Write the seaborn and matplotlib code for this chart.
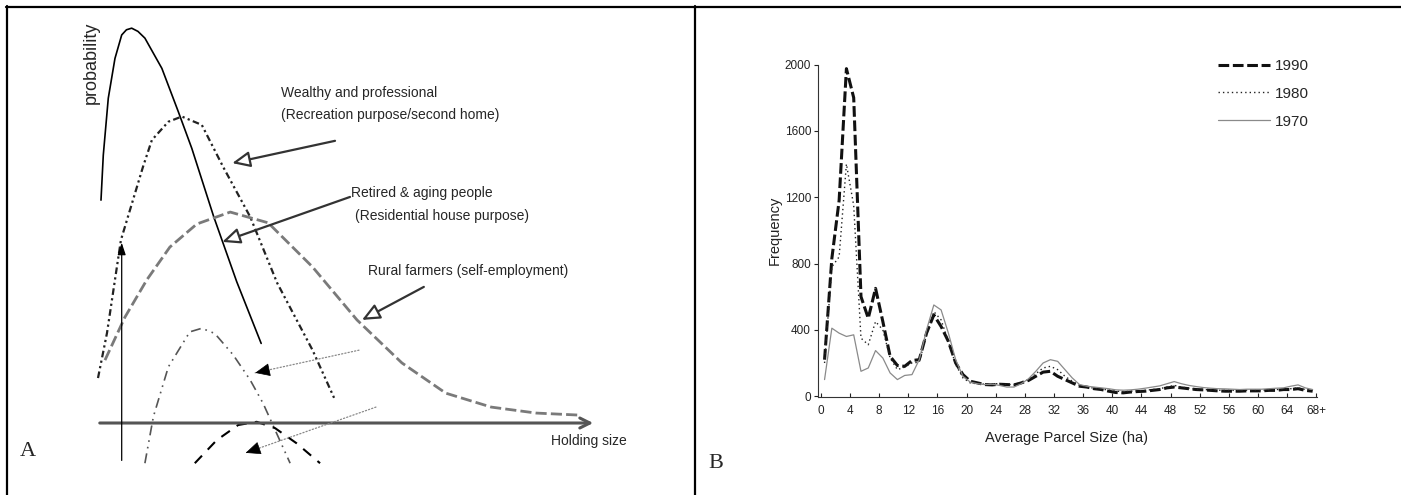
import numpy as np
import pandas as pd
import seaborn as sns
import matplotlib.pyplot as plt
from matplotlib import font_manager
from matplotlib.lines import Line2D

# --- Panel A: schematic curves (holding size vs probability, arbitrary units 0-100) ---
SOLID_X = [0.8, 1.26, 2.26, 3.6, 4.95, 5.9, 6.95, 8.2, 9.6, 13.0, 16.3, 19.0, 23.4, 28.0, 32.9]
SOLID_Y = [56.0, 67.3, 81.6, 91.6, 97.5, 98.8, 99.2, 98.4, 96.7, 89.1, 78.2, 69.0, 51.8, 35.5, 20.0]

WEALTHY_X = [0.2, 2.0, 4.8, 9.2, 11.0, 14.3, 17.0, 21.0, 25.3, 30.7, 36.1, 43.2, 47.7]
WEALTHY_Y = [11.3, 22.6, 46.0, 64.3, 71.1, 75.7, 77.0, 74.9, 64.3, 51.8, 35.2, 18.3, 5.8]

RETIRED_X = [1.6, 5.6, 10.0, 14.6, 20.0, 26.7, 34.3, 43.2, 52.1, 61.1, 69.9, 79.0, 88.0, 96.4]
RETIRED_Y = [15.8, 26.6, 36.0, 44.2, 50.0, 53.0, 50.3, 39.2, 25.9, 15.1, 7.5, 4.0, 2.5, 2.0]

LOWER1_X = [9.6, 11.3, 14.3, 18.6, 21.0, 23.6, 27.3, 30.7, 33.3, 36.0, 38.7]
LOWER1_Y = [-10.1, 1.6, 14.1, 22.9, 23.8, 22.5, 17.1, 10.8, 4.9, -2.6, -10.1]

LOWER2_X = [19.6, 24.0, 28.3, 32.0, 35.7, 40.0, 44.7]
LOWER2_Y = [-10.1, -4.3, -0.5, 0.3, -1.3, -5.1, -10.1]

LABELS_A = ["Wealthy and professional", "(Recreation purpose/second home)",
            "Retired & aging people", "(Residential house purpose)",
            "Rural farmers (self-employment)"]
LABEL_X = [36.9, 36.9, 50.9, 51.7, 54.3]
LABEL_Y = [82.9, 77.4, 57.8, 52.0, 38.2]

ARROW_TAIL_X = [47.7, 50.7, 65.5]
ARROW_TAIL_Y = [70.9, 56.8, 34.2]
ARROW_HEAD_X = [27.1, 25.1, 53.1]
ARROW_HEAD_Y = [65.3, 45.5, 25.9]

DOTTED_TAIL_X = [52.5, 55.9]
DOTTED_TAIL_Y = [18.3, 4.0]
DOTTED_HEAD_X = [31.7, 29.8]
DOTTED_HEAD_Y = [12.6, -7.5]

# --- Panel B: parcel size frequency (1 ha bins, plotted at bin centres) ---
PARCEL_SIZE = np.arange(0.5, 68, 1.0)
YEARS = ["1990", "1980", "1970"]
FREQ_1990 = [220, 830, 1180, 1975, 1800, 600, 470, 650, 450, 240, 185, 180, 215, 220, 380, 490, 420,
             330, 200, 130, 90, 80, 70, 68, 72, 70, 68, 80, 95, 120, 145, 150, 120, 100, 80, 60, 55,
             45, 40, 30, 22, 20, 25, 28, 30, 35, 40, 50, 55, 50, 45, 40, 38, 35, 32, 30, 30, 30, 32,
             32, 32, 35, 35, 40, 40, 45, 35, 30]
FREQ_1980 = [200, 780, 840, 1400, 1150, 350, 310, 450, 400, 230, 160, 175, 200, 205, 370, 510, 460,
             330, 190, 110, 80, 75, 72, 75, 75, 70, 70, 85, 100, 135, 170, 180, 160, 120, 90, 65, 55,
             48, 42, 38, 30, 28, 30, 32, 35, 40, 45, 55, 65, 55, 48, 42, 40, 38, 36, 35, 35, 35, 36,
             36, 36, 38, 40, 42, 45, 50, 40, 35]
FREQ_1970 = [100, 410, 380, 360, 370, 150, 170, 275, 230, 140, 100, 125, 130, 220, 400, 550, 520,
             380, 220, 120, 85, 75, 70, 72, 65, 55, 55, 75, 105, 150, 200, 220, 210, 160, 110, 70, 60,
             55, 50, 45, 38, 36, 38, 42, 48, 55, 62, 75, 88, 75, 65, 58, 52, 48, 45, 44, 42, 40, 42,
             42, 42, 45, 48, 50, 60, 68, 50, 40]
X_TICKS = list(range(0, 69, 4))
X_TICK_LABELS = [str(v) for v in X_TICKS[:-1]] + ["68+"]
Y_TICKS = [0, 400, 800, 1200, 1600, 2000]

W, H = 1401, 495


def px_rect(left, top, right, bottom):
    return [left / W, 1 - bottom / H, (right - left) / W, (bottom - top) / H]


sns.set_theme(style="ticks")
plt.rcParams['font.family'] = ['Liberation Sans', 'DejaVu Sans']

installed = {f.name for f in font_manager.fontManager.ttflist}
if 'Liberation Sans Narrow' in installed:
    NARROW = ['Liberation Sans Narrow', 'Liberation Sans']
    A_SIZE = 12
else:
    NARROW = ['Liberation Sans', 'DejaVu Sans']
    A_SIZE = 10

fig = plt.figure(figsize=(W / 100, H / 100), dpi=100)

# frame lines around the two panels
for xs, ys in [([6 / W, 1], [1 - 6.5 / H] * 2), ([6.5 / W] * 2, [1 - 6 / H, 0]),
               ([695 / W] * 2, [1 - 6 / H, 0])]:
    fig.add_artist(Line2D(xs, ys, transform=fig.transFigure, color='black', lw=1.6))

# ==============================================================================
# Panel A
# ==============================================================================
axA = fig.add_axes(px_rect(97, 25, 596, 465))
axA.set_xlim(0, 100)
axA.set_ylim(-10.55, 100)
axA.axis('off')

# axes with open arrow heads
axA.annotate('', xy=(100, 0), xytext=(0, 0),
             arrowprops=dict(arrowstyle='->,head_length=0.6,head_width=0.3', color='#555', lw=2.2))
axA.annotate('', xy=(0, 101), xytext=(0, 0),
             arrowprops=dict(arrowstyle='->,head_length=0.6,head_width=0.3', color='#555', lw=2.2))
axA.text(91.0, -4.5, "Holding size", family=NARROW, fontsize=A_SIZE, va='center', ha='left')
axA.text(-1.1, 100.8, "probability", family=NARROW, fontsize=A_SIZE + 3, rotation=90,
         va='top', ha='center')

axA.plot(SOLID_X, SOLID_Y, color='black', lw=1.2, clip_on=False)
axA.plot(WEALTHY_X, WEALTHY_Y, color='#222', lw=1.6, dashes=(3, 1.5, 1, 1.5, 1, 1.5), clip_on=False)
axA.plot(RETIRED_X, RETIRED_Y, color='#7a7a7a', lw=2.0, dashes=(4, 1.5), clip_on=False)
axA.plot(LOWER1_X, LOWER1_Y, color='#555', lw=1.2, dashes=(6, 3, 1, 3, 1, 3), clip_on=False)
axA.plot(LOWER2_X, LOWER2_Y, color='black', lw=1.5, dashes=(5, 4), clip_on=False)

# vertical arrow near the y axis
axA.annotate('', xy=(4.95, 46.0), xytext=(4.95, -10.1),
             arrowprops=dict(arrowstyle='-|>,head_length=0.6,head_width=0.2', color='black', lw=0.9))

for label, lx, ly in zip(LABELS_A, LABEL_X, LABEL_Y):
    axA.text(lx, ly, label, family=NARROW, fontsize=A_SIZE, va='center', ha='left')

for tx, ty, hx, hy in zip(ARROW_TAIL_X, ARROW_TAIL_Y, ARROW_HEAD_X, ARROW_HEAD_Y):
    axA.annotate('', xy=(hx, hy), xytext=(tx, ty),
                 arrowprops=dict(arrowstyle='-|>,head_length=0.9,head_width=0.4', fc='white',
                                 ec='#333', lw=1.6, shrinkA=0, shrinkB=0))

for tx, ty, hx, hy in zip(DOTTED_TAIL_X, DOTTED_TAIL_Y, DOTTED_HEAD_X, DOTTED_HEAD_Y):
    axA.annotate('', xy=(hx, hy), xytext=(tx, ty),
                 arrowprops=dict(arrowstyle='-', color='#888', lw=0.9, ls=':', shrinkA=0, shrinkB=0))
    axA.annotate('', xy=(hx, hy), xytext=(hx + 0.08 * (tx - hx), hy + 0.08 * (ty - hy)),
                 arrowprops=dict(arrowstyle='-|>,head_length=0.8,head_width=0.35', color='black',
                                 lw=0.5, shrinkA=0, shrinkB=0))

fig.text(20 / W, 1 - 452 / H, "A", family=['Liberation Serif'], fontsize=16, va='center', ha='left')

# ==============================================================================
# Panel B
# ==============================================================================
axB = fig.add_axes(px_rect(818, 64.5, 1317, 397))
df = pd.DataFrame({
    'size': np.tile(PARCEL_SIZE, 3),
    'freq': np.concatenate([FREQ_1990, FREQ_1980, FREQ_1970]),
    'year': np.repeat(YEARS, len(PARCEL_SIZE)),
})
palette = {'1990': '#111111', '1980': '#222222', '1970': '#8a8a8a'}
dashes = {'1990': (3.5, 1.2), '1980': (1, 2.2), '1970': ''}
widths = {'1990': 2.2, '1980': 1.0, '1970': 0.9}
sns.lineplot(data=df, x='size', y='freq', hue='year', style='year', size='year',
             hue_order=YEARS, style_order=YEARS, size_order=YEARS,
             palette=palette, dashes=dashes, sizes=widths,
             estimator=None, legend=False, ax=axB)

axB.set_xlim(-0.4, 68.1)
axB.set_ylim(-5, 2000)
axB.set_xticks(X_TICKS)
axB.set_xticklabels(X_TICK_LABELS)
axB.set_yticks(Y_TICKS)
axB.tick_params(axis='x', direction='in', length=3, width=0.8, pad=6, labelsize=8.5, colors='#222')
axB.tick_params(axis='y', direction='out', length=3, width=0.8, pad=2, labelsize=8.5, colors='#222')
sns.despine(ax=axB)
for side in ['left', 'bottom']:
    axB.spines[side].set_linewidth(0.8)
    axB.spines[side].set_color('#333')

axB.set_xlabel("Average Parcel Size (ha)", fontsize=10.5, color='#222')
axB.set_ylabel("Frequency", fontsize=10.5, color='#222')
axB.xaxis.set_label_coords(0.497, -0.102)
axB.yaxis.set_label_coords(-0.072, 0.5)

handles = [Line2D([], [], color=palette[y], lw=widths[y],
                  dashes=dashes[y] if dashes[y] else (None, None)) for y in YEARS]
handles[2].set_linestyle('-')
axB.legend(handles, YEARS, frameon=False, fontsize=11, loc='upper left',
           bbox_to_anchor=(1218 / W, 1 - 59 / H), bbox_transform=fig.transFigure,
           handlelength=3.4, handletextpad=0.3, labelspacing=0.9, borderpad=0, borderaxespad=0)

fig.text(708 / W, 1 - 464 / H, "B", family=['Liberation Serif'], fontsize=16, va='center', ha='left')

fig.savefig("out.png", dpi=100)
